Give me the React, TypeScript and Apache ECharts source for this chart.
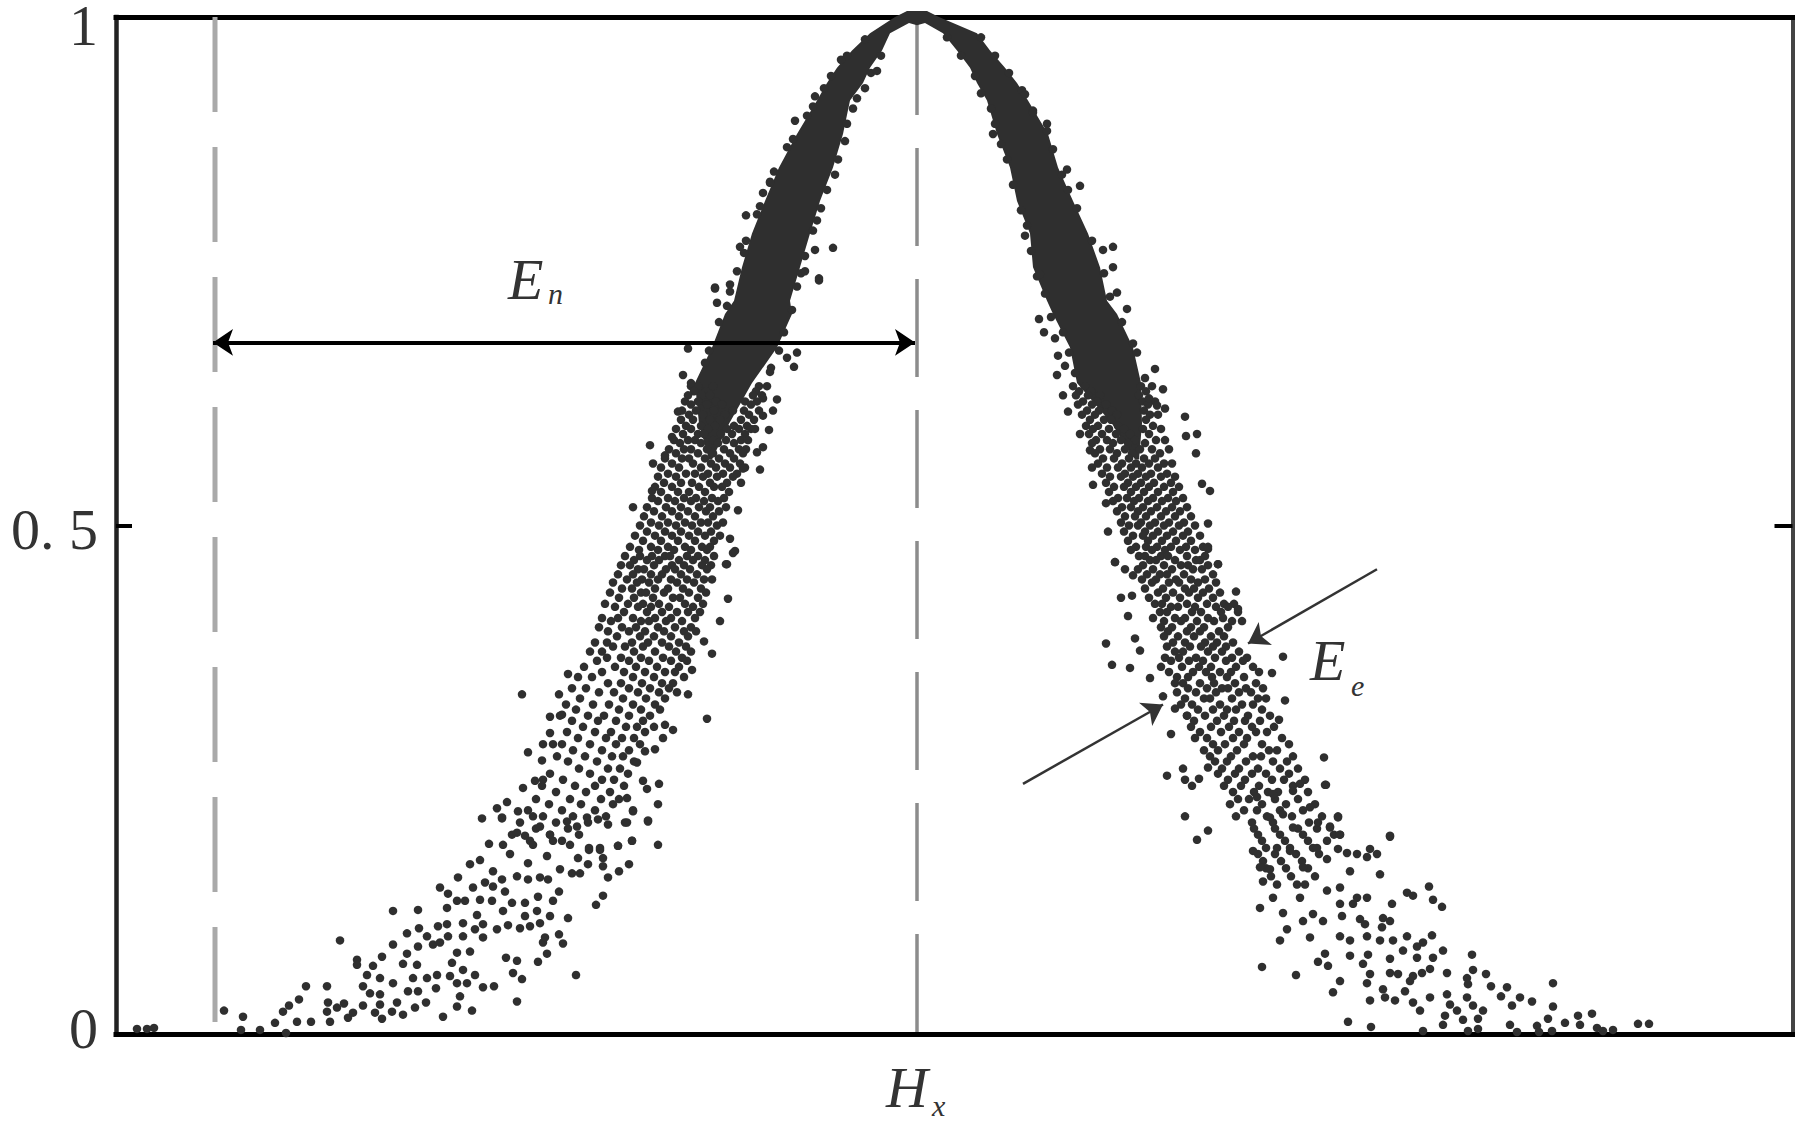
import React, { useEffect, useRef } from "react";
import * as echarts from "echarts";

const xMin = -801;
const xMax = 875.5;
const hxValue = 0;
const enEdge = -702;
const yTickValues = [0, 0.5, 1];
const yTickLabels = ["0", "0. 5", "1"];

// band outline of the saturated part of the cloud: [x, y in thousandths]
const leftOuter = [[-208,565],[-218,600],[-222,640],[-205,675],[-192,708],[-183,721],[-175,754],[-165,787],[-152,819],[-138,852],[-120,885],[-100,918],[-90,935],[-80,950],[-65,967],[-47,984],[-22,1000],[-10,1006]];
const rightOuter = [[10,1006],[22,1000],[60,984],[73,967],[88,950],[100,935],[111,918],[131,885],[141,852],[156,819],[171,787],[183,754],[190,721],[200,708],[216,675],[224,640],[225,600],[222,565]];
const rightInner = [[218,565],[195,600],[160,640],[153,675],[136,708],[130,721],[116,754],[113,787],[100,819],[93,852],[80,885],[70,918],[60,935],[53,950],[40,967],[26,984],[8,994],[0,992]];
const leftInner = [[-8,994],[-27,984],[-35,967],[-47,950],[-54,935],[-67,918],[-74,885],[-84,852],[-97,819],[-107,787],[-117,754],[-127,721],[-125,708],[-140,675],[-165,640],[-188,600],[-205,565]];

// rows of drops: first number is y in thousandths, the rest are x values
const leftRows = [
[637,-226,-219,-204,-158,-150],[632,-223,-211,-161],[628,-229,-215,-207,-164,-155],[622,-232,-219,-201,-172,-160],[619,-226,-210,-195,-166],[613,-235,-221,-203,-184,-173,-158],[609,-228,-214,-192,-168],[604,-236,-224,-207,-197,-176,-163],[598,-231,-216,-202,-183,-170],[595,-241,-226,-209,-190,-178,-166],[590,-234,-219,-213,-196,-185,-172],[584,-243,-229,-222,-204,-191,-176,-169],[581,-237,-216,-199,-183],[575,-248,-233,-226,-210,-193,-178,-171],[571,-241,-219,-204,-187,-174],[566,-252,-235,-228,-212,-198,-183],[561,-245,-224,-206,-192,-177],[557,-256,-238,-216,-201,-187,-172],[551,-249,-231,-222,-209,-194,-180],[548,-259,-241,-214,-200,-184],[542,-253,-236,-225,-207,-190,-176],[538,-262,-245,-218,-203,-195],[533,-256,-239,-228,-212,-188],[527,-265,-249,-233,-221,-205,-193],[524,-259,-242,-226,-213,-199],[518,-270,-251,-236,-218,-207,-191],[514,-263,-245,-229,-211,-198],[509,-273,-255,-238,-222,-204],[503,-266,-249,-232,-216,-209,-194],[500,-277,-258,-241,-225,-200],[494,-270,-252,-236,-219,-206],[490,-282,-262,-245,-228,-212,-197],[485,-274,-256,-239,-222,-203],[479,-287,-266,-249,-232,-215,-207],[476,-278,-259,-243,-226,-210],
[470,-292,-277,-265,-252,-247,-230,-219,-203],[466,-283,-270,-258,-238,-224,-212],[461,-296,-287,-263,-245,-233,-215,-206],[457,-279,-273,-251,-242,-227,-210],[452,-299,-284,-266,-255,-236,-220],[447,-290,-275,-259,-246,-230,-213,-205],[444,-304,-280,-268,-240,-223],[438,-295,-285,-262,-249,-234,-216],[434,-307,-276,-271,-253,-228,-211],[429,-298,-283,-264,-244,-237,-219],[423,-312,-289,-274,-258,-232,-214],[420,-302,-279,-266,-248,-224],[415,-293,-270,-255,-240,-229,-217],[409,-315,-299,-284,-262,-246,-222],[406,-306,-276,-268,-251,-235],[400,-318,-295,-281,-259,-242,-226],[396,-309,-288,-272,-253,-233,-221],[391,-300,-277,-263,-246,-229],[385,-322,-310,-285,-269,-255,-238],[381,-304,-292,-274,-248,-231],[376,-327,-315,-283,-262,-241,-226],[370,-310,-296,-276,-254,-235],[367,-320,-288,-268,-246,-230],[361,-333,-302,-281,-260,-238],[356,-315,-293,-272,-252,-242],[351,-339,-325,-284,-263,-233],[345,-309,-296,-275,-255,-244],[340,-345,-331,-288,-267,-248],[336,-318,-303,-279,-258,-240],[330,-337,-294,-271,-252],[324,-351,-324,-308,-284,-262],[319,-341,-298,-276,-257],[313,-357,-329,-313,-288,-267],[308,-345,-319,-301,-274],[302,-334,-291,-280,-263],[297,-350,-322,-306,-272],[291,-339,-311,-295,-283],[285,-355,-327,-301,-277],[279,-344,-315,-288],[273,-360,-332,-305,-294],[268,-349,-320,-283],[261,-338,-309,-297],[256,-367,-327,-289],[250,-354,-315,-303],[244,-375,-342,-322,-293],[238,-361,-331,-307],[231,-381,-347,-316,-298],[226,-368,-336,-304],[220,-389,-355,-322],[214,-374,-344,-311],[208,-397,-361,-329],[202,-381,-349],[196,-405,-367,-338],[190,-387,-355],
];
const rightRows = [
[637,156,168,224,235],[632,162,174,229],[628,159,171,183,222],[622,166,180,226,238],[619,161,175,189,231],[613,170,182,195,227],[609,165,178,200,233,241],[604,173,187,194,229],[598,169,181,201,236],[595,176,192,207,226,244],[590,172,185,199,213,232],[584,179,190,204,218,239,248],[581,175,196,211,228],[575,183,193,208,223,235,252],[571,178,200,215,243],[566,186,197,212,227,238],[561,181,205,219,232,247,255],[557,190,201,214,225,241],[551,185,208,221,234,250],[548,193,204,216,229,244,258],[542,189,211,224,237,254],[538,197,207,219,232,247,262],[533,192,214,227,241,256],[527,201,210,222,236,251,266],[524,196,217,231,245,259],[518,205,214,226,240,255,270],[514,200,221,234,249,263],[509,208,218,229,244,258,274],[503,204,224,238,252,267],[500,212,221,233,247,262,278],[494,207,228,241,256,271],[490,216,226,236,250,266,283],[485,211,231,245,259,274],[479,219,229,240,254,269,286],[476,214,235,248,263,278],
[470,222,228,244,251,270,288],[466,233,239,258,279,283],[461,226,247,264,271,291],[457,221,236,255,276,285],[452,230,243,250,267,296],[447,225,239,259,274,288],[444,235,252,262,281,299],[438,228,246,268,277,292],[434,241,256,272,286,303],[429,232,249,263,281,296],[423,238,245,270,290,307,317],[420,254,261,278,299,311],[415,243,250,275,284,304,321],[409,236,258,268,291,306],[406,247,264,280,297,315],[400,244,255,274,287,311],[396,251,270,283,302],[391,247,261,277,294,307],[385,256,268,288,300,316],[381,250,273,284,296,309],[376,258,266,291,305,322],[370,248,262,279,298,315,330],[367,254,272,286,309,326],[361,244,265,282,294,319,336],[356,252,276,289,303,314,342],[351,260,271,295,310,327],
[345,258,266,283,297,318,339],[340,271,290,305,311,329,346],[336,260,279,299,322,334],[330,268,287,293,315,341,349],[324,264,275,303,325,336],[319,281,296,310,319,345],[313,270,288,307,331,353],[308,277,300,317,328,343],[302,274,294,312,335,357],[297,283,304,322,339,350],[291,278,290,316,330,365],[285,296,308,327,345,372],[279,287,301,320,352,360],[273,293,314,336,344,376],[268,298,310,329,356,370],[261,305,322,341,363,381],[256,301,318,335,349,372],[250,311,328,355,367,388],[244,307,324,342,376],[238,316,337,351,361,391],[231,321,332,358,381],[226,313,345,369,398],[220,327,340,363,386],[214,319,350,375,405],[208,335,356,392],
[202,337,358,381,400],[196,341,363,386,417],[190,345,368,391,410],[183,349,373,396],[177,341,358,379,402],[170,346,364,385],[163,349,369,391],[155,354,374,398],[147,360,380],
];

// drops that roughen the edges of the saturated band: [x, y in thousandths]
const leftEdge = [[-52,978],[-70,962],[-76,958],[-86,942],[-93,930],[-104,912],[-110,903],[-124,880],[-130,872],[-143,848],[-147,838],[-157,814],[-160,806],[-171,780],[-173,768],[-180,750],[-187,730],[-190,716],[-198,700],[-208,672],[-212,660],[-226,640],[-36,962],[-46,945],[-52,930],[-60,920],[-64,910],[-70,895],[-72,878],[-79,860],[-82,845],[-90,830],[-96,812],[-100,800],[-104,790],[-112,765],[-116,748],[-120,735],[-125,712],[-133,690],[-138,672],[-146,655]];
const rightEdge = [[64,980],[78,962],[92,945],[105,928],[116,908],[130,895],[136,870],[145,845],[151,830],[160,812],[175,780],[187,748],[193,725],[205,700],[220,670],[228,645],[232,625],[30,980],[44,962],[58,942],[64,925],[74,910],[78,895],[84,875],[90,860],[96,835],[104,810],[110,795],[114,770],[120,745],[128,728],[134,705],[146,690],[152,670],[158,650]];

// individually readable drops: [x, y in thousandths]
const leftLoose = [[-693,23],[-674,17],[-676,4],[-657,4],[-642,11],[-631,1],[-634,22],[-628,28],[-618,34],[-620,12],[-606,12],[-611,47],[-590,47],[-587,12],[-589,31],[-590,22],[-580,26],[-573,30],[-569,16],[-564,21],[-577,92],[-560,73],[-560,68],[-554,47],[-550,58],[-544,67],[-535,76],[-537,55],[-524,50],[-554,28],[-547,40],[-537,39],[-537,29],[-542,21],[-535,15],[-525,22],[-520,31],[-514,19],[-502,26],[-491,31],[-509,42],[-499,42],[-504,55],[-500,68],[-514,69],[-510,79],[-524,88],[-499,86],[-510,99],[-524,121],[-499,122],[-498,104],[-490,96],[-484,88],[-477,90],[-469,96],[-454,96],[-479,106],[-470,108],[-454,109],[-480,58],[-490,55],[-481,45],[-474,17],[-460,27],[-445,23],[-457,37],[-467,57],[-460,50],[-450,50],[-442,58],[-454,63],[-465,70],[-460,80],[-447,81],[-434,46],[-423,47],[-400,32],[-395,54],[-404,60],[-400,72],[-411,75],[-379,71],[-370,79],[-374,90],[-372,95],[-354,89],[-358,98],[-349,114],[-341,58],[-470,124],[-460,131],[-452,131],[-437,132],[-425,131],[-477,144],[-469,138],[-459,154],[-444,144],[-432,149],[-424,145],[-447,167],[-437,171],[-428,187],[-424,160],[-415,152],[-412,140],[-405,129],[-414,121],[-440,117],[-434,108],[-434,95],[-442,103],[-420,103],[-409,107],[-397,104],[-387,106],[-377,109],[-367,116],[-364,131],[-379,135],[-392,129],[-380,121],[-392,116],[-400,155],[-389,152],[-377,154],[-369,152],[-358,140],[-357,162],[-345,158],[-337,158],[-329,167],[-339,173],[-328,181],[-317,181],[-314,173],[-314,165],[-309,154],[-298,160],[-288,167],[-299,185],[-285,190],[-314,136],[-321,127],[-269,209],[-435,212],[-415,212],[-420,222],[-399,219],[-400,198],[-392,195],[-384,186],[-414,186],[-407,177],[-389,168],[-370,175],[-364,190],[-367,196],[-347,186],[-350,209],[-340,204],[-330,213],[-319,211],[-309,206],[-292,208],[-284,219],[-377,204],[-384,214],
[-395,334],[-358,334],[-349,354],[-367,312],[-355,314],[-367,296],[-374,285],[-364,285],[-389,277],[-375,269],[-410,228],[-394,242],[-382,249],[-374,250],[-415,213],[-210,310],[-197,406],[-189,428],[-190,462],[-184,473],[-213,386],[-205,374],[-225,358],[-229,334],[-244,299],[-252,304],[-254,291],[-262,280],[-272,278],[-280,267],[-274,249],[-270,241],[-258,246],[-290,232],[-284,220],[-259,226],[-269,210],[-290,208],[-285,190],[-299,185],[-259,186],[-317,183],[-328,183],
[-202,734],[-200,719],[-229,674],[-234,648],[-239,612],[-245,587],[-267,579],[-252,569],[-264,561],[-265,534],[-284,518],[-120,670],[-130,665],[-123,656],[-147,651],[-154,625],[-140,624],[-144,613],[-154,608],[-148,594],[-162,595],[-154,577],[-160,572],[-157,555],[-174,556],[-179,515],[-187,487],[-182,475],[-191,462],[-98,741],[-171,805],[-84,773],[-102,771],[-98,743],[-112,750],[-202,733],[-187,737],[-177,774],[-40,947],[-102,922],[-122,898],[-147,837],[-154,827],[-780,5],[-770,5],[-763,6]];
const rightLoose = [[408,245],[421,214],[413,203],[423,196],[473,194],[453,182],[460,177],[450,174],[440,177],[430,178],[421,182],[433,160],[463,157],[393,223],[401,208],[490,139],[496,136],[512,145],[516,132],[525,125],[475,128],[450,134],[440,134],[436,128],[425,116],[423,128],[443,113],[448,108],[450,96],[433,92],[423,96],[466,114],[473,111],[465,105],[463,92],[476,92],[486,82],[490,96],[515,97],[506,90],[500,86],[526,82],[555,78],[500,75],[473,74],[516,75],[513,64],[505,60],[496,57],[530,60],[556,63],[550,55],[551,49],[569,59],[574,47],[590,46],[584,37],[595,28],[603,36],[615,32],[636,50],[636,27],[631,15],[648,11],[661,18],[663,9],[675,20],[680,6],[686,3],[696,4],[721,10],[732,10],[635,3],[620,8],[622,2],[600,2],[593,9],[561,5],[551,3],[561,15],[566,23],[556,28],[550,36],[546,14],[540,23],[533,29],[530,39],[528,18],[526,9],[506,3],[503,23],[496,31],[513,36],[488,42],[493,52],[481,59],[473,60],[466,44],[468,36],[478,33],[453,33],[454,7],[431,12],[450,50],[453,59],[446,69],[451,78],[423,52],[416,41],[411,67],[401,71],[408,79],[433,77],[379,58],[345,66],[363,92],[370,103],[343,124],[356,134],[366,119],[393,95],[396,118],[386,111],[406,111],[383,134],[346,150],[343,164],[353,162],[336,180],[360,183],[373,180],[400,183],[410,172],[386,164],[388,147],[410,141],[423,144],[366,216],[376,203],[353,213],[340,233],[356,236],[376,239],[383,246],
[189,384],[195,363],[213,360],[204,429],[215,431],[211,411],[218,389],[223,377],[233,350],[246,332],[258,320],[270,313],[254,295],[250,254],[266,261],[268,250],[282,251],[275,244],[268,214],[291,200],[280,191],[291,262],[366,371],[355,355],[368,328],[362,309],[407,272],[409,245],[421,213],[413,204],[423,196],[473,195],[319,435],[321,418],[325,406],[291,477],[301,462],[198,464],[208,457],[216,451],
[122,703],[127,690],[138,684],[141,667],[148,657],[140,648],[146,628],[151,612],[163,590],[173,574],[175,557],[176,540],[189,522],[191,494],[198,464],[210,713],[200,729],[268,607],[280,590],[269,588],[279,571],[248,615],[240,618],[246,634],[293,534],[285,541],[291,502],[291,479],[301,462],[238,654],[216,679],[108,924],[116,906],[130,888],[163,834],[150,850],[196,774],[186,771],[196,754],[108,785],[123,747],[76,885]];

// annotation arrows: [x, y in thousandths]
const enArrow = [[-704, 680], [-2, 680]];
const eeUpperArrow = [[460, 457], [331, 384]];
const eeLowerArrow = [[106, 246], [246, 324]];

const scaleY = (v: number) => v / 1000;
const rowsToPoints = (rows: number[][]) =>
  rows.flatMap((r) => r.slice(1).map((x) => [x, scaleY(r[0])]));
const loosePoints = (list: number[][]) => list.map((p) => [p[0], scaleY(p[1])]);

const DOT = "#2f2f2f";
const SERIF = "'Liberation Serif', 'Times New Roman', serif";

function italic(text: string, x: number, y: number, size: number) {
  return {
    type: "text",
    x,
    y,
    silent: true,
    style: { text, fill: "#333", font: `italic ${size}px ${SERIF}` },
  };
}

function arrowSeries(seg: number[][], color: string, width: number, size: number, both: boolean) {
  return {
    type: "line",
    data: [],
    silent: true,
    markLine: {
      silent: true,
      animation: false,
      symbol: both ? ["arrow", "arrow"] : ["none", "arrow"],
      symbolSize: size,
      label: { show: false },
      lineStyle: { color, width, type: "solid" },
      data: [[{ coord: [seg[0][0], scaleY(seg[0][1])] }, { coord: [seg[1][0], scaleY(seg[1][1])] }]],
    },
    z: 6,
  };
}

export default function App() {
  const ref = useRef<HTMLDivElement>(null);
  useEffect(() => {
    const chart = echarts.init(ref.current!, undefined, { renderer: "svg" });
    const outline = [...leftOuter, ...rightOuter, ...rightInner, ...leftInner].map((p) => [p[0], scaleY(p[1])]);
    const frameX = { min: xMin, max: xMax, type: "value", splitLine: { show: false }, axisTick: { show: false }, axisLabel: { show: false } };
    const line = (color: string, width: number) => ({ show: true, onZero: false, lineStyle: { color, width, cap: "square" } });
    const labelRich = {
      top: { fontFamily: SERIF, fontSize: 58, color: "#333", padding: [16, 0, 0, 0] },
      mid: { fontFamily: SERIF, fontSize: 58, color: "#333", padding: [8, 0, 0, 0] },
      low: { fontFamily: SERIF, fontSize: 58, color: "#333", padding: [0, 0, 12, 0] },
    };
    chart.setOption({
      animation: false,
      backgroundColor: "#fff",
      grid: { left: 116, top: 17, width: 1676.5, height: 1017, containLabel: false, outerBoundsMode: "none" },
      xAxis: [
        { ...frameX, position: "bottom", axisLine: line("#000", 5) },
        { ...frameX, position: "top", axisLine: line("#000", 5) },
      ],
      yAxis: [
        {
          type: "value", min: 0, max: 1, interval: 0.5, position: "left",
          splitLine: { show: false },
          axisLine: line("#222", 4.5),
          axisTick: { show: true, inside: true, length: 16, lineStyle: { color: "#000", width: 4 } },
          axisLabel: {
            show: true, margin: 18, showMinLabel: true, showMaxLabel: true,
            formatter: (v: number) => {
              const i = yTickValues.indexOf(v);
              const key = i === 2 ? "top" : i === 1 ? "mid" : "low";
              return `{${key}|${yTickLabels[i]}}`;
            },
            rich: labelRich,
          },
        },
        {
          type: "value", min: 0, max: 1, interval: 0.5, position: "right",
          splitLine: { show: false },
          axisLine: line("#444", 4),
          axisTick: { show: true, inside: true, length: 18, lineStyle: { color: "#000", width: 4 } },
          axisLabel: { show: false },
        },
      ],
      graphic: [
        italic("E", 508, 250, 58),
        italic("n", 548, 278, 30),
        italic("E", 1310, 631, 58),
        italic("e", 1351, 670, 30),
        italic("H", 886, 1058, 58),
        italic("x", 932, 1090, 30),
      ],
      series: [
        {
          type: "line", showSymbol: false, silent: true, z: 1,
          data: [[enEdge, 1], [enEdge, 0]],
          lineStyle: { color: "#a9a9a9", width: 5, type: [95, 35] },
        },
        {
          type: "line", showSymbol: false, silent: true, z: 1,
          data: [[hxValue, 1], [hxValue, 0]],
          lineStyle: { color: "#8c8c8c", width: 3.5, type: [98, 33] },
        },
        {
          type: "custom", silent: true, z: 3, clip: false,
          data: [[0, 0]],
          renderItem: (_p: any, api: any) => ({
            type: "polygon",
            shape: { points: outline.map((p) => api.coord(p)) },
            style: { fill: DOT },
          }),
        },
        {
          type: "scatter", silent: true, z: 4, clip: false, symbol: "circle", symbolSize: 8.5,
          itemStyle: { color: DOT, opacity: 1 },
          data: [...rowsToPoints(leftRows), ...loosePoints(leftEdge), ...loosePoints(leftLoose)],
        },
        {
          type: "scatter", silent: true, z: 4, clip: false, symbol: "circle", symbolSize: 8.5,
          itemStyle: { color: DOT, opacity: 1 },
          data: [...rowsToPoints(rightRows), ...loosePoints(rightEdge), ...loosePoints(rightLoose)],
        },
        arrowSeries(enArrow, "#000", 4, 20, true),
        arrowSeries(eeUpperArrow, "#333", 2.5, 20, false),
        arrowSeries(eeLowerArrow, "#333", 2.5, 20, false),
      ],
    });
    return () => chart.dispose();
  }, []);
  return <div ref={ref} style={{ position: "fixed", left: 0, top: 0, width: 1797, height: 1121 }} />;
}
